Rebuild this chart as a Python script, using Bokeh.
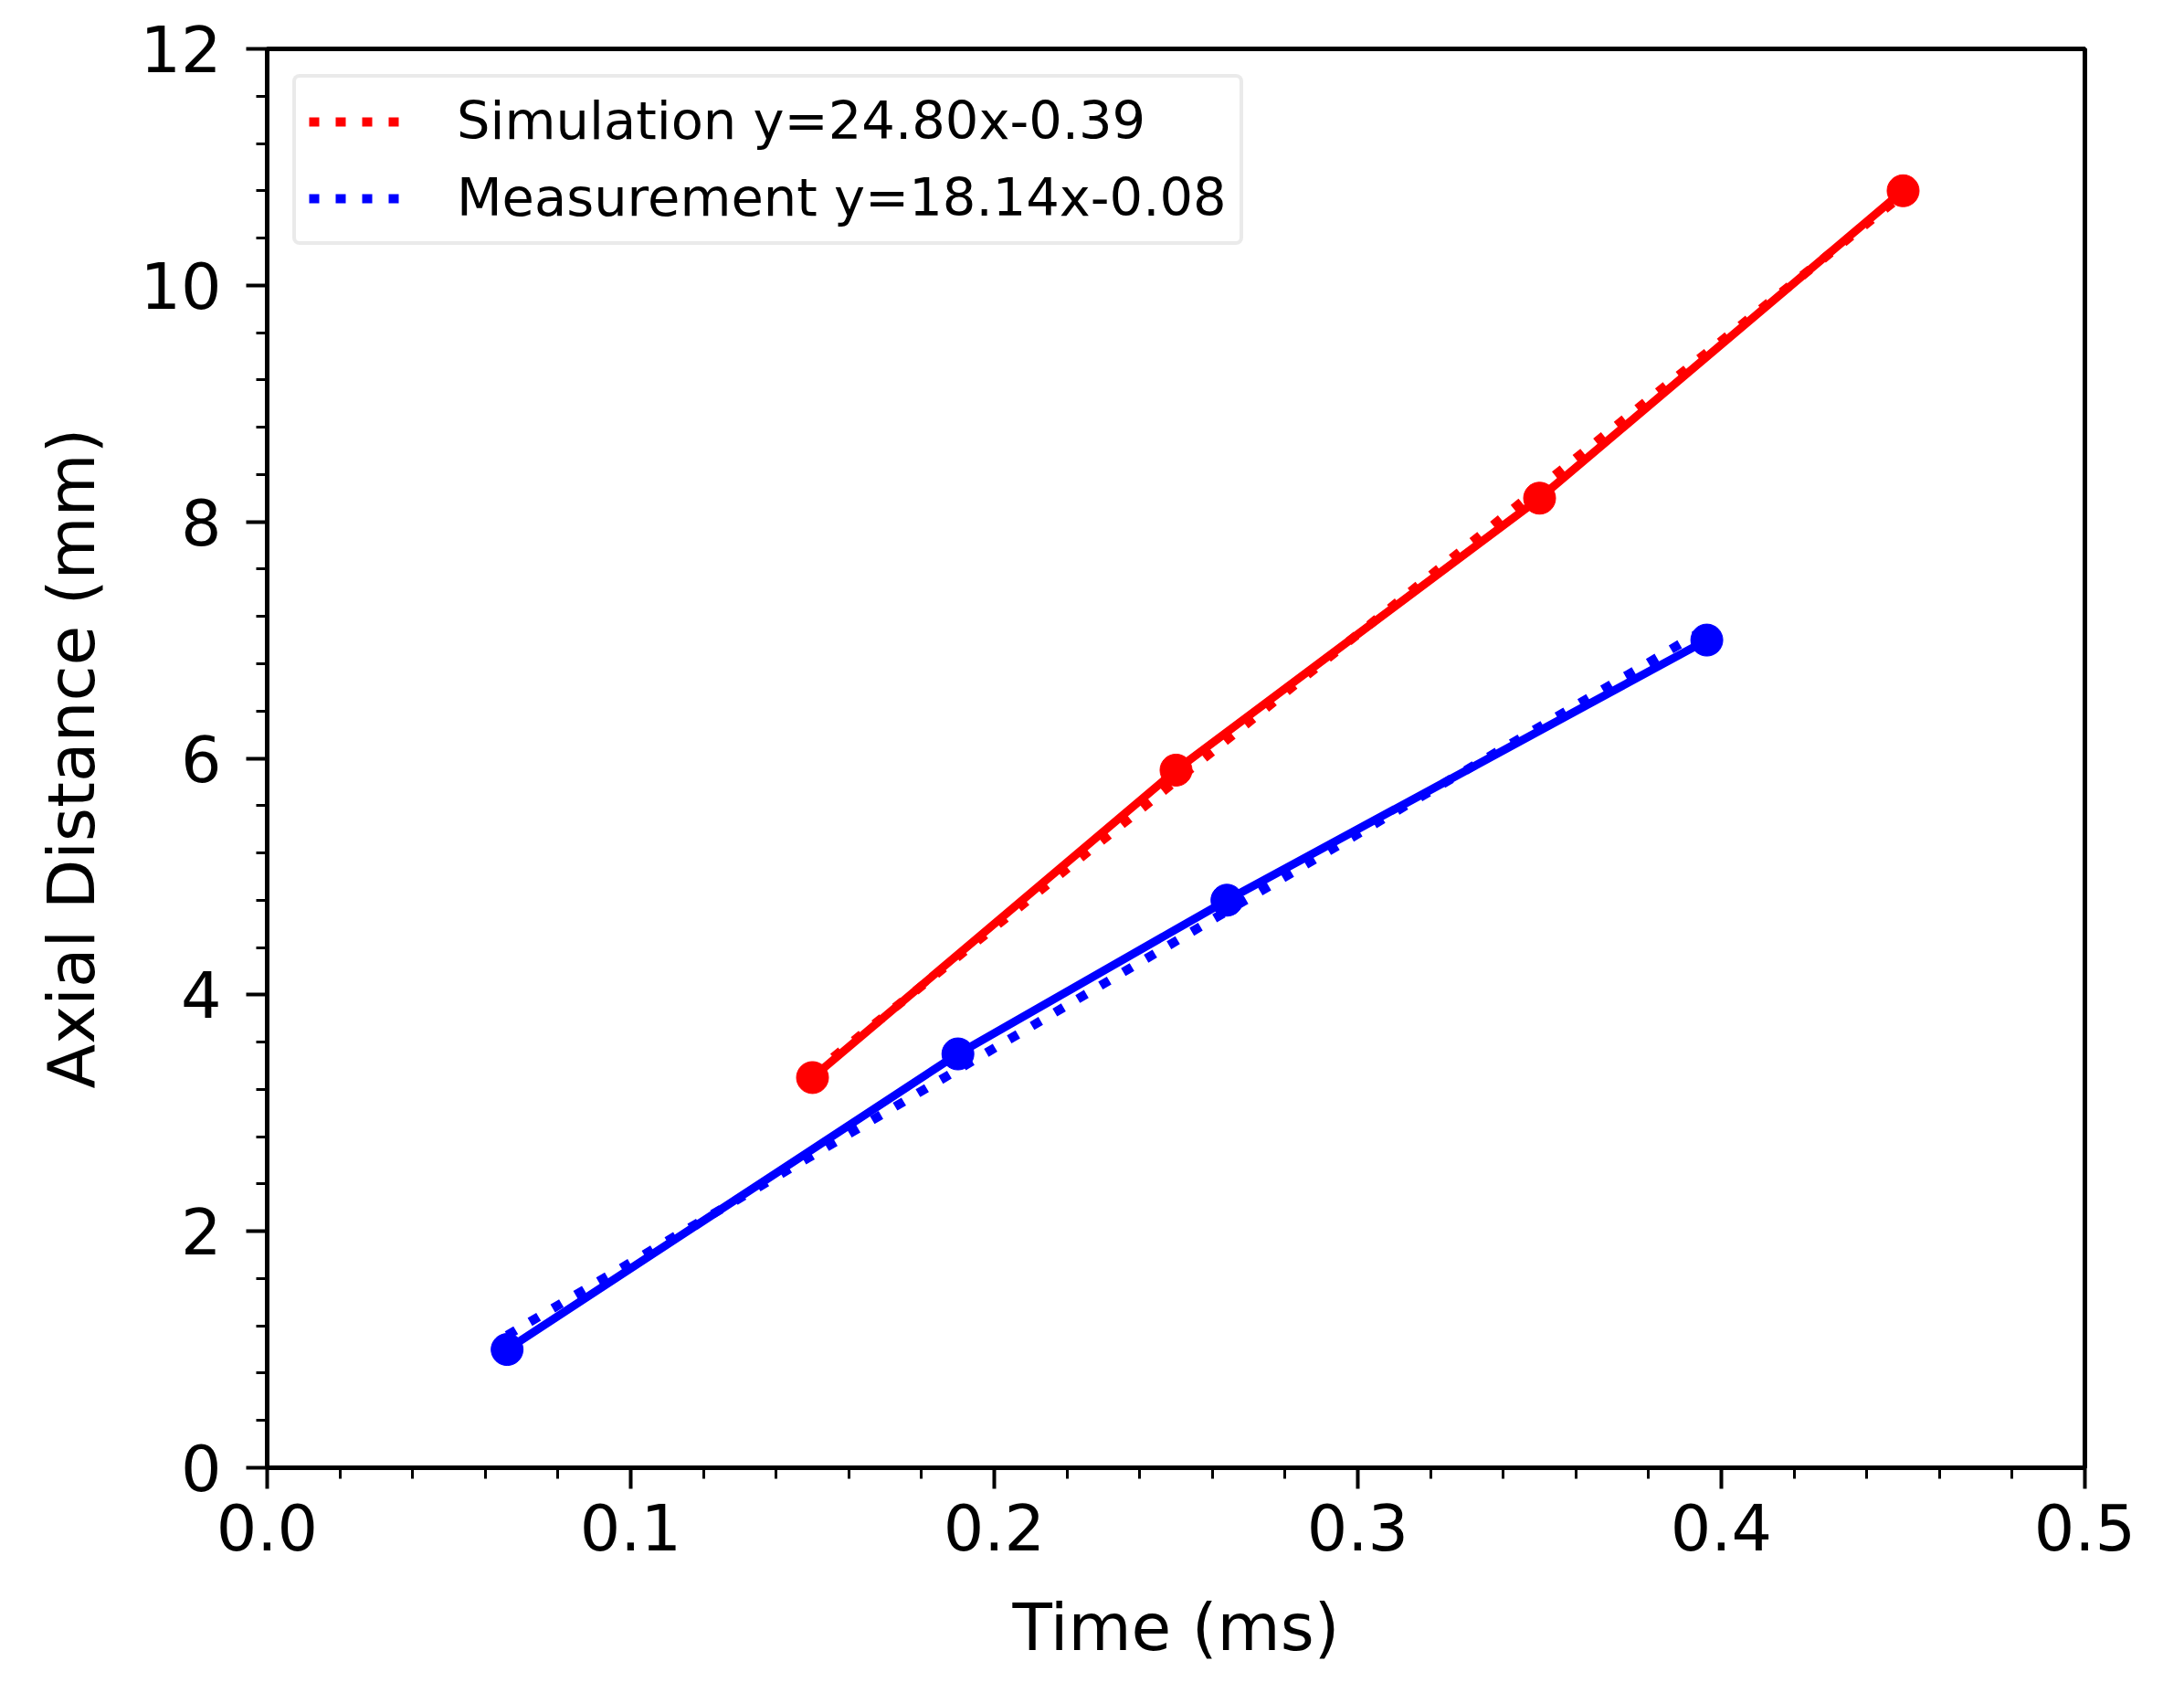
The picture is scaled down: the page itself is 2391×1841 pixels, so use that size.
from bokeh.plotting import figure
from bokeh.models import Range1d, FixedTicker, Legend, LegendItem, ColumnDataSource
from bokeh.embed import file_html
from bokeh.resources import INLINE

# ---- data ----
sim_time = [0.15, 0.25, 0.35, 0.45]
sim_dist = [3.3, 5.9, 8.2, 10.8]
meas_time = [0.066, 0.19, 0.264, 0.396]
meas_dist = [1.0, 3.5, 4.8, 7.0]

sim_fit_time = [0.15, 0.45]
sim_fit_dist = [3.33, 10.77]
meas_fit_time = [0.066, 0.396]
meas_fit_dist = [1.12, 7.10]

sim_label = "Simulation y=24.80x-0.39"
meas_label = "Measurement y=18.14x-0.08"

x_ticks = [0.0, 0.1, 0.2, 0.3, 0.4, 0.5]
x_tick_labels = ["0.0", "0.1", "0.2", "0.3", "0.4", "0.5"]
x_minor = [0.02, 0.04, 0.06, 0.08, 0.12, 0.14, 0.16, 0.18, 0.22, 0.24, 0.26, 0.28,
           0.32, 0.34, 0.36, 0.38, 0.42, 0.44, 0.46, 0.48]
y_ticks = [0, 2, 4, 6, 8, 10, 12]
y_tick_labels = ["0", "2", "4", "6", "8", "10", "12"]
y_minor = [0.4, 0.8, 1.2, 1.6, 2.4, 2.8, 3.2, 3.6, 4.4, 4.8, 5.2, 5.6, 6.4, 6.8, 7.2, 7.6,
           8.4, 8.8, 9.2, 9.6, 10.4, 10.8, 11.2, 11.6]

FONT = "DejaVu Sans"
RED = "#ff0000"
BLUE = "#0000ff"

p = figure(frame_width=1990, frame_height=1553, output_backend="svg", toolbar_location=None,
           x_range=Range1d(0, 0.5), y_range=Range1d(0, 12),
           min_border_left=292, min_border_right=70, min_border_top=53, min_border_bottom=200)
p.background_fill_color = "white"
p.border_fill_color = "white"
p.grid.visible = False
p.outline_line_color = "black"
p.outline_line_width = 5

p.xaxis.ticker = FixedTicker(ticks=x_ticks, minor_ticks=x_minor)
p.yaxis.ticker = FixedTicker(ticks=y_ticks, minor_ticks=y_minor)
p.xaxis.major_label_overrides = {t: l for t, l in zip(x_ticks, x_tick_labels)}
p.yaxis.major_label_overrides = {t: l for t, l in zip(y_ticks, y_tick_labels)}

for ax in (p.xaxis, p.yaxis):
    ax.axis_line_width = 5
    ax.axis_line_color = "black"
    ax.major_tick_in = 0
    ax.major_tick_out = 23
    ax.minor_tick_in = 0
    ax.minor_tick_out = 12
    ax.major_tick_line_width = 4
    ax.minor_tick_line_width = 3
    ax.major_label_text_font = FONT
    ax.major_label_text_font_size = "70px"
    ax.major_label_text_color = "black"
    ax.axis_label_text_font = FONT
    ax.axis_label_text_font_size = "71px"
    ax.axis_label_text_font_style = "normal"
    ax.axis_label_text_color = "black"

p.xaxis.axis_label = "Time (ms)"
p.yaxis.axis_label = "Axial Distance (mm)"
p.xaxis.major_label_standoff = 16
p.yaxis.major_label_standoff = 27
p.xaxis.axis_label_standoff = 40
p.yaxis.axis_label_standoff = 30

sim_src = ColumnDataSource(dict(x=sim_time, y=sim_dist))
meas_src = ColumnDataSource(dict(x=meas_time, y=meas_dist))
sim_fit_src = ColumnDataSource(dict(x=sim_fit_time, y=sim_fit_dist))
meas_fit_src = ColumnDataSource(dict(x=meas_fit_time, y=meas_fit_dist))

p.line("x", "y", source=sim_src, line_color=RED, line_width=9)
p.scatter("x", "y", source=sim_src, size=35, fill_color=RED, line_color=RED)
p.line("x", "y", source=meas_src, line_color=BLUE, line_width=9)
p.scatter("x", "y", source=meas_src, size=35, fill_color=BLUE, line_color=BLUE)

r_sim_fit = p.line("x", "y", source=sim_fit_src, line_color=RED, line_width=10,
                   line_dash="11 18", line_cap="butt")
r_meas_fit = p.line("x", "y", source=meas_fit_src, line_color=BLUE, line_width=10,
                    line_dash="11 18", line_cap="butt")

legend = Legend(items=[LegendItem(label=sim_label, renderers=[r_sim_fit]),
                       LegendItem(label=meas_label, renderers=[r_meas_fit])],
                location="top_left", margin=28, padding=14,
                glyph_width=114, glyph_height=66, label_height=66,
                label_standoff=48, spacing=17,
                label_text_font=FONT, label_text_font_size="57.5px",
                label_text_color="black",
                border_line_color="#d6d6d6", border_line_width=4,
                background_fill_color="white", background_fill_alpha=1.0)
if "border_radius" in Legend.properties():
    legend.border_radius = 8
p.add_layout(legend)

open("out.html", "w").write(file_html(p, INLINE))
